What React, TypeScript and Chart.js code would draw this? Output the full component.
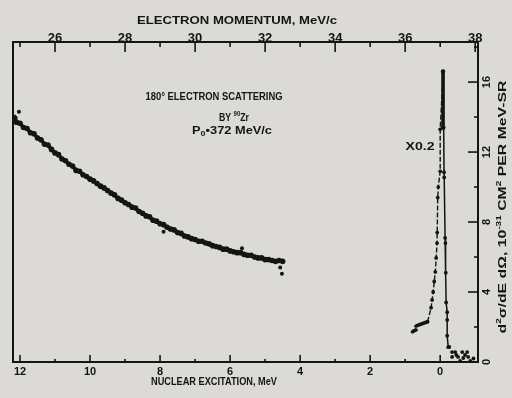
import { useEffect, useRef } from 'react';
import { Chart, registerables } from 'chart.js';

Chart.register(...registerables);

// ---- data ----
// continuum: nuclear excitation (MeV) vs d2sigma/dE dOmega (1e-31 cm2 per MeV-sr)
const CONT_E = [12.2, 12.15, 12.1, 12.0, 11.9, 11.8, 11.7, 11.6, 11.5, 11.4, 11.3, 11.2, 11.1, 11.0, 10.9, 10.8, 10.7, 10.6, 10.5, 10.4, 10.3, 10.2, 10.1, 10.0, 9.9, 9.8, 9.7, 9.6, 9.5, 9.4, 9.3, 9.2, 9.1, 9.0, 8.9, 8.8, 8.7, 8.6, 8.5, 8.4, 8.3, 8.2, 8.1, 8.0, 7.9, 7.8, 7.7, 7.6, 7.5, 7.4, 7.3, 7.2, 7.1, 7.0, 6.9, 6.8, 6.7, 6.6, 6.5, 6.4, 6.3, 6.2, 6.1, 6.0, 5.9, 5.8, 5.7, 5.6, 5.5, 5.4, 5.3, 5.2, 5.1, 5.0, 4.9, 4.8, 4.7, 4.6, 4.5];
const CONT_Y = [13.8, 13.95, 13.7, 13.65, 13.4, 13.35, 13.1, 13.05, 12.8, 12.7, 12.45, 12.4, 12.15, 11.95, 11.85, 11.6, 11.5, 11.3, 11.2, 10.95, 10.9, 10.7, 10.6, 10.45, 10.35, 10.2, 10.05, 9.95, 9.8, 9.65, 9.55, 9.35, 9.25, 9.1, 9.0, 8.85, 8.8, 8.6, 8.5, 8.35, 8.3, 8.1, 8.05, 7.9, 7.85, 7.7, 7.6, 7.55, 7.4, 7.35, 7.2, 7.15, 7.05, 7.0, 6.9, 6.9, 6.8, 6.75, 6.65, 6.6, 6.55, 6.45, 6.45, 6.35, 6.3, 6.25, 6.25, 6.15, 6.1, 6.1, 6.0, 5.95, 5.95, 5.85, 5.85, 5.8, 5.75, 5.8, 5.75];

const STRAY_E = [12.03, 7.9, 5.66, 4.57, 4.52];
const STRAY_Y = [14.3, 7.45, 6.5, 5.4, 5.05];

// elastic peak (plotted x0.2)
const FOOT_E = [0.8, 0.68, 0.69, 0.7, 0.5, 0.36];
const FOOT_Y = [1.72, 1.85, null, 2.05, 2.2, 2.3];

const RISE_E = [0.36, 0.26, 0.23, 0.2, 0.17, 0.14, 0.115, 0.09, 0.085, 0.07, 0.055, 0.0, 0.0, -0.086];
const RISE_Y = [2.3, 3.1, 3.55, 4.0, 4.6, 5.15, 5.95, 6.8, 7.4, 9.4, 10.0, 10.9, 13.3, 16.6];

const TOP_E = [-0.08, -0.08];
const TOP_Y = [16.6, 13.4];

const FALL_E = [-0.086, -0.1, -0.11, -0.115, -0.14, -0.15, -0.16, -0.17, -0.2, -0.2, -0.2, -0.23];
const FALL_Y = [16.6, 13.4, 10.85, 10.55, 7.1, 6.8, 5.1, 3.4, 2.85, 2.4, 1.5, 0.85];

const TAIL_E = [-0.26, -0.34, -0.43, -0.63, -0.77, -0.34, -0.46, -0.51, -0.66, -0.71, -0.8, -0.57, -0.86, -0.95];
const TAIL_Y = [0.86, 0.57, 0.57, 0.57, 0.57, 0.29, 0.4, 0.29, 0.23, 0.4, 0.29, 0.06, 0.06, 0.2];

// ticks
const BOTTOM_TICKS = [12, 10, 8, 6, 4, 2, 0];
const BOTTOM_MINOR = [11, 9, 7, 5, 3, 1];
const TOP_TICKS = [26, 28, 30, 32, 34, 36, 38];
const TOP_MINOR = [25, 27, 29, 31, 33, 35, 37];
const RIGHT_TICKS = [0, 4, 8, 12, 16];
const RIGHT_MINOR = [2, 6, 10, 14, 18];

const INK = '#141414';
const BG = '#dcdad6';
const FAMILY = '"Liberation Sans", Arial, sans-serif';

const pts = (xs: number[], ys: (number | null)[]) => xs.map((x, i) => ({ x, y: ys[i] }));

type Seg = { t: string; sup?: boolean; sub?: boolean };

function drawRich(ctx: CanvasRenderingContext2D, segs: Seg[], cx: number, cy: number, targetW: number, size: number, rot = 0) {
  const fontFor = (s: Seg) => `bold ${s.sup || s.sub ? Math.round(size * 0.68) : size}px ${FAMILY}`;
  let w = 0;
  for (const s of segs) {
    ctx.font = fontFor(s);
    w += ctx.measureText(s.t).width;
  }
  ctx.save();
  ctx.translate(cx, cy);
  ctx.rotate(rot);
  ctx.scale(targetW / w, 1);
  ctx.fillStyle = INK;
  ctx.textBaseline = 'alphabetic';
  ctx.textAlign = 'left';
  let x = -w / 2;
  const base = size * 0.36;
  for (const s of segs) {
    ctx.font = fontFor(s);
    const dy = s.sup ? -size * 0.42 : s.sub ? size * 0.22 : 0;
    ctx.fillText(s.t, x, base + dy);
    x += ctx.measureText(s.t).width;
  }
  ctx.restore();
}

const decor = {
  id: 'decor',
  afterDraw(chart: any) {
    const { ctx, chartArea: a, scales } = chart;
    const sx = scales.x, st = scales.x2, sy = scales.y;
    ctx.save();
    ctx.strokeStyle = INK;
    ctx.lineWidth = 2;
    ctx.strokeRect(a.left, a.top, a.right - a.left, a.bottom - a.top);
    ctx.lineWidth = 1.6;
    const line = (x1: number, y1: number, x2: number, y2: number) => {
      ctx.beginPath(); ctx.moveTo(x1, y1); ctx.lineTo(x2, y2); ctx.stroke();
    };
    BOTTOM_TICKS.forEach(v => { const p = sx.getPixelForValue(v); line(p, a.bottom, p, a.bottom - 7); });
    BOTTOM_MINOR.forEach(v => { const p = sx.getPixelForValue(v); line(p, a.bottom, p, a.bottom - 3); });
    TOP_TICKS.forEach(v => { const p = st.getPixelForValue(v); line(p, a.top, p, a.top + 10); });
    TOP_MINOR.forEach(v => { const p = st.getPixelForValue(v); line(p, a.top, p, a.top + 5); });
    RIGHT_TICKS.forEach(v => { const p = sy.getPixelForValue(v); line(a.right, p, a.right - 10, p); });
    RIGHT_MINOR.forEach(v => { const p = sy.getPixelForValue(v); line(a.right, p, a.right - 4, p); });

    // right axis tick labels (rotated)
    ctx.fillStyle = INK;
    ctx.font = `bold 11px ${FAMILY}`;
    ctx.textAlign = 'center';
    ctx.textBaseline = 'middle';
    RIGHT_TICKS.forEach(v => {
      const p = sy.getPixelForValue(v);
      ctx.save();
      ctx.translate(a.right + 9, p);
      ctx.rotate(-Math.PI / 2);
      ctx.fillText(String(v), 0, 0);
      ctx.restore();
    });

    // axis titles and annotations
    drawRich(ctx, [{ t: 'ELECTRON MOMENTUM, MeV/c' }], 237, 20, 200, 11);
    drawRich(ctx, [{ t: 'NUCLEAR EXCITATION, MeV' }], 214, 381, 126, 11);
    drawRich(ctx, [{ t: 'd' }, { t: '2', sup: true }, { t: 'σ/dE dΩ, 10' }, { t: '-31', sup: true }, { t: ' CM' }, { t: '2', sup: true }, { t: ' PER MeV-SR' }], 502, 207, 253, 11, -Math.PI / 2);
    drawRich(ctx, [{ t: '180° ELECTRON SCATTERING' }], 214, 96, 137, 11);
    drawRich(ctx, [{ t: 'BY ' }, { t: '90', sup: true }, { t: 'Zr' }], 234, 117, 30, 10);
    drawRich(ctx, [{ t: 'P' }, { t: '0', sub: true }, { t: '•372 MeV/c' }], 232, 130, 80, 10);
    drawRich(ctx, [{ t: 'X0.2' }], 420, 146, 29, 11);
    ctx.restore();
  },
};

export default function App() {
  const ref = useRef<HTMLCanvasElement>(null);
  useEffect(() => {
    if (!ref.current) return;
    const tickFont = (size: number) => ({ family: FAMILY, size, weight: 'bold' as const });
    const chart = new Chart(ref.current, {
      type: 'scatter',
      data: {
        datasets: [
          { data: pts(CONT_E, CONT_Y), showLine: true, borderColor: INK, borderWidth: 3.6, backgroundColor: INK, pointRadius: 2.8, pointBorderWidth: 0 },
          { data: pts(STRAY_E, STRAY_Y), showLine: false, backgroundColor: INK, pointRadius: 2, pointBorderWidth: 0 },
          { data: pts(FOOT_E, FOOT_Y), showLine: true, spanGaps: false, borderColor: INK, borderWidth: 3.5, backgroundColor: INK, pointRadius: 1.5, pointBorderWidth: 0 },
          { data: pts(RISE_E, RISE_Y), showLine: true, borderColor: INK, borderWidth: 1.4, borderDash: [5, 2], backgroundColor: INK, pointRadius: 1.9, pointBorderWidth: 0 },
          { data: pts(TOP_E, TOP_Y), showLine: true, borderColor: INK, borderWidth: 3.5, backgroundColor: INK, pointRadius: 2.2, pointBorderWidth: 0 },
          { data: pts(FALL_E, FALL_Y), showLine: true, borderColor: INK, borderWidth: 1.5, backgroundColor: INK, pointRadius: 1.9, pointBorderWidth: 0 },
          { data: pts(TAIL_E, TAIL_Y), showLine: false, backgroundColor: INK, pointRadius: 1.9, pointBorderWidth: 0 },
        ],
      },
      options: {
        animation: false,
        responsive: false,
        events: [],
        layout: { padding: { left: 13, right: 0, top: 0, bottom: 0 } },
        plugins: { legend: { display: false }, tooltip: { enabled: false } },
        scales: {
          x: {
            type: 'linear', position: 'bottom', reverse: true, min: -1.08, max: 12.2,
            grid: { display: false, drawTicks: false }, border: { display: false },
            ticks: { color: INK, font: tickFont(11), padding: 3, maxRotation: 0 },
            afterBuildTicks: (s: any) => { s.ticks = BOTTOM_TICKS.map(v => ({ value: v })); },
            afterFit: (s: any) => { s.height = 36; },
          },
          x2: {
            type: 'linear', position: 'top', min: 24.8, max: 38.08,
            grid: { display: false, drawTicks: false }, border: { display: false },
            ticks: { color: INK, font: tickFont(13), padding: -4, maxRotation: 0 },
            afterBuildTicks: (s: any) => { s.ticks = TOP_TICKS.map(v => ({ value: v })); },
            afterFit: (s: any) => { s.height = 42; },
          },
          y: {
            type: 'linear', position: 'right', min: 0, max: 18.29,
            grid: { display: false, drawTicks: false }, border: { display: false },
            ticks: { display: false },
            afterBuildTicks: (s: any) => { s.ticks = RIGHT_TICKS.map(v => ({ value: v })); },
            afterFit: (s: any) => { s.width = 34; },
          },
        },
      },
      plugins: [decor],
    });
    return () => chart.destroy();
  }, []);
  return (
    <div style={{ position: 'fixed', left: 0, top: 0, width: 512, height: 398, background: BG }}>
      <canvas ref={ref} width={512} height={398} style={{ display: 'block', width: 512, height: 398 }} />
    </div>
  );
}
